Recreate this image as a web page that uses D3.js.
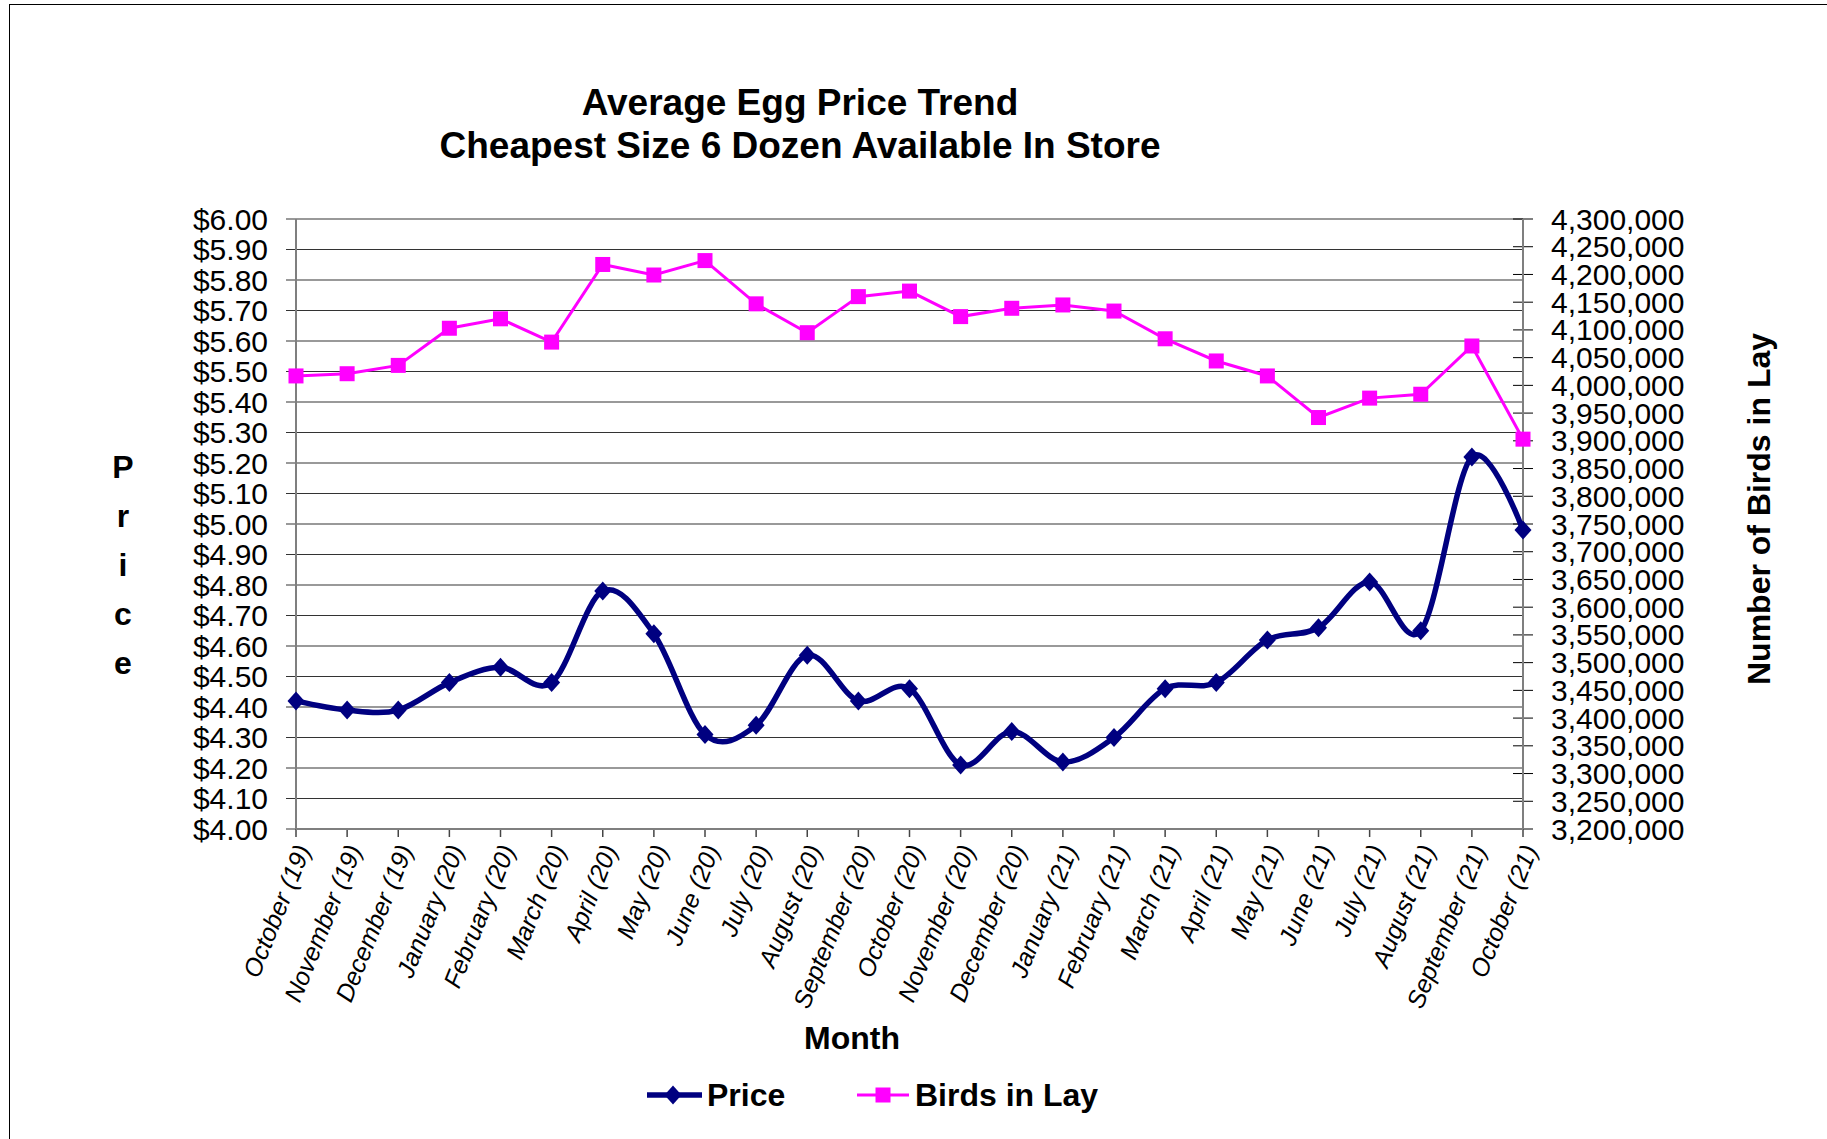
<!DOCTYPE html>
<html>
<head>
<meta charset="utf-8">
<script src="https://cdn.jsdelivr.net/npm/d3@7"></script>
<style>
  body { margin: 0; background: #fff; }
  svg text { font-family: "Liberation Sans", Arial, sans-serif; fill: #000; }
</style>
</head>
<body>
<svg id="chart" width="1827" height="1139"></svg>
<script>
// data
const months = [
  "October (19)", "November (19)", "December (19)", "January (20)", "February (20)",
  "March (20)", "April (20)", "May (20)", "June (20)", "July (20)", "August (20)",
  "September (20)", "October (20)", "November (20)", "December (20)", "January (21)",
  "February (21)", "March (21)", "April (21)", "May (21)", "June (21)", "July (21)",
  "August (21)", "September (21)", "October (21)"
];

const price = [
  4.42, 4.39, 4.39, 4.48, 4.53, 4.48, 4.78, 4.64, 4.31, 4.34, 4.57, 4.42, 4.46,
  4.21, 4.32, 4.22, 4.30, 4.46, 4.48, 4.62, 4.66, 4.81, 4.65, 5.22, 4.98
];

const birdsInLay = [
  4017000, 4021000, 4036000, 4103000, 4120000, 4078000, 4218000, 4199000, 4225000,
  4147000, 4095000, 4160000, 4170000, 4124000, 4139000, 4145000, 4134000, 4084000,
  4044000, 4017000, 3942000, 3977000, 3984000, 4071000, 3903000
];

const priceTicks = d3.range(0, 21).map((i) => 4 + i * 0.1);
const birdTicks = d3.range(0, 23).map((i) => 3200000 + i * 50000);

const titleLines = ["Average Egg Price Trend", "Cheapest Size 6 Dozen Available In Store"];
const legendItems = ["Price", "Birds in Lay"];

const PRICE_COLOR = "#000080";
const BIRD_COLOR = "#ff00ff";

const plot = { left: 296, right: 1523, top: 219, bottom: 829 };

const svg = d3.select("#chart");
const fmtPrice = (x) => "$" + d3.format(".2f")(x);
const fmtBirds = d3.format(",.0f");

svg.append("rect")
  .attr("width", 1827).attr("height", 1139)
  .attr("fill", "#fff");

// outer chart frame
svg.append("rect")
  .attr("x", 9.5).attr("y", 4.5)
  .attr("width", 1900).attr("height", 1200)
  .attr("fill", "none")
  .attr("stroke", "#000")
  .attr("stroke-width", 1);

const x = d3.scalePoint()
  .domain(months)
  .range([plot.left, plot.right])
  .padding(0);

const yPrice = d3.scaleLinear()
  .domain([4, 6])
  .range([plot.bottom, plot.top]);

const yBirds = d3.scaleLinear()
  .domain([3200000, 4300000])
  .range([plot.bottom, plot.top]);

// gridlines + left ticks
svg.append("g")
  .selectAll("line")
  .data(priceTicks)
  .join("line")
  .attr("x1", plot.left - 10)
  .attr("x2", plot.right)
  .attr("y1", (d) => yPrice(d))
  .attr("y2", (d) => yPrice(d))
  .attr("stroke", "#000")
  .attr("stroke-width", 1.2)
  .attr("stroke-opacity", 0.8);

// left axis labels
svg.append("g")
  .selectAll("text")
  .data(priceTicks)
  .join("text")
  .attr("x", 268)
  .attr("y", (d) => yPrice(d))
  .attr("dy", "0.35em")
  .attr("text-anchor", "end")
  .style("font-size", "30px")
  .text(fmtPrice);

// right axis ticks + labels
svg.append("g")
  .selectAll("line")
  .data(birdTicks)
  .join("line")
  .attr("x1", plot.right - 10)
  .attr("x2", plot.right + 10)
  .attr("y1", (d) => yBirds(d))
  .attr("y2", (d) => yBirds(d))
  .attr("stroke", "#000")
  .attr("stroke-width", 1);

svg.append("g")
  .selectAll("text")
  .data(birdTicks)
  .join("text")
  .attr("x", 1551)
  .attr("y", (d) => yBirds(d))
  .attr("dy", "0.35em")
  .style("font-size", "30px")
  .text(fmtBirds);

// bottom ticks
svg.append("g")
  .selectAll("line")
  .data(months)
  .join("line")
  .attr("x1", (d) => x(d))
  .attr("x2", (d) => x(d))
  .attr("y1", plot.bottom)
  .attr("y2", plot.bottom + 8)
  .attr("stroke", "#444")
  .attr("stroke-width", 1.5);

// axis lines
const axisLines = [
  [plot.left, plot.top, plot.left, plot.bottom],
  [plot.right, plot.top, plot.right, plot.bottom],
  [plot.left, plot.bottom, plot.right, plot.bottom]
];
svg.append("g")
  .selectAll("line")
  .data(axisLines)
  .join("line")
  .attr("x1", (d) => d[0]).attr("y1", (d) => d[1])
  .attr("x2", (d) => d[2]).attr("y2", (d) => d[3])
  .attr("stroke", "#7f7f7f")
  .attr("stroke-width", 2);

// month labels
svg.append("g")
  .selectAll("text")
  .data(months)
  .join("text")
  .attr("transform", (d) => "translate(" + (x(d) + 7) + "," + (plot.bottom + 17) + ") rotate(-68)")
  .attr("dy", "0.35em")
  .attr("text-anchor", "end")
  .style("font-size", "25px")
  .style("font-style", "italic")
  .text((d) => d);

// birds line
const birdSeries = months.map((m, i) => ({ m: m, v: birdsInLay[i] }));
svg.append("path")
  .datum(birdSeries)
  .attr("fill", "none")
  .attr("stroke", BIRD_COLOR)
  .attr("stroke-width", 3)
  .attr("d", d3.line().x((d) => x(d.m)).y((d) => yBirds(d.v)));

svg.append("g")
  .selectAll("rect")
  .data(birdSeries)
  .join("rect")
  .attr("x", (d) => x(d.m) - 7.5)
  .attr("y", (d) => yBirds(d.v) - 7.5)
  .attr("width", 15)
  .attr("height", 15)
  .attr("fill", BIRD_COLOR);

// price line, smoothed like the original
const priceSeries = months.map((m, i) => ({ m: m, v: price[i] }));
svg.append("path")
  .datum(priceSeries)
  .attr("fill", "none")
  .attr("stroke", PRICE_COLOR)
  .attr("stroke-width", 5.5)
  .attr("stroke-linejoin", "round")
  .attr("d", d3.line().curve(d3.curveCatmullRom.alpha(0)).x((d) => x(d.m)).y((d) => yPrice(d.v)));

const diamond = "M0,-9.5L8.5,0L0,9.5L-8.5,0Z";
svg.append("g")
  .selectAll("path")
  .data(priceSeries)
  .join("path")
  .attr("transform", (d) => "translate(" + x(d.m) + "," + yPrice(d.v) + ")")
  .attr("d", diamond)
  .attr("fill", PRICE_COLOR);

// title
svg.append("g")
  .selectAll("text")
  .data(titleLines)
  .join("text")
  .attr("x", 800)
  .attr("y", (d, i) => 115 + i * 43)
  .attr("text-anchor", "middle")
  .style("font-size", "37px")
  .style("font-weight", "bold")
  .text((d) => d);

// left axis title, stacked letters
svg.append("g")
  .selectAll("text")
  .data("Price".split(""))
  .join("text")
  .attr("x", 123)
  .attr("y", (d, i) => 478 + i * 49)
  .attr("text-anchor", "middle")
  .style("font-size", "32px")
  .style("font-weight", "bold")
  .text((d) => d);

// right axis title
svg.append("text")
  .attr("transform", "translate(1770,509) rotate(-90)")
  .attr("text-anchor", "middle")
  .style("font-size", "32px")
  .style("font-weight", "bold")
  .text("Number of Birds in Lay");

// x axis title
svg.append("text")
  .attr("x", 852)
  .attr("y", 1049)
  .attr("text-anchor", "middle")
  .style("font-size", "32px")
  .style("font-weight", "bold")
  .text("Month");

// legend
const legend = svg.append("g").attr("transform", "translate(0,1095)");
const legendX = [647, 857];
const legendG = legend.selectAll("g")
  .data(legendItems)
  .join("g")
  .attr("transform", (d, i) => "translate(" + legendX[i] + ",0)");

legendG.append("line")
  .attr("x1", 0).attr("x2", (d, i) => i == 0 ? 55 : 52)
  .attr("stroke", (d, i) => i == 0 ? PRICE_COLOR : BIRD_COLOR)
  .attr("stroke-width", (d, i) => i == 0 ? 5.5 : 3);

legendG.filter((d, i) => i == 0).append("path")
  .attr("transform", "translate(26,0)")
  .attr("d", diamond)
  .attr("fill", PRICE_COLOR);

legendG.filter((d, i) => i == 1).append("rect")
  .attr("x", 26 - 7.5).attr("y", -7.5)
  .attr("width", 15).attr("height", 15)
  .attr("fill", BIRD_COLOR);

legendG.append("text")
  .attr("x", (d, i) => i == 0 ? 60 : 58)
  .attr("y", 11)
  .style("font-size", "32px")
  .style("font-weight", "bold")
  .text((d) => d);
</script>
</body>
</html>
